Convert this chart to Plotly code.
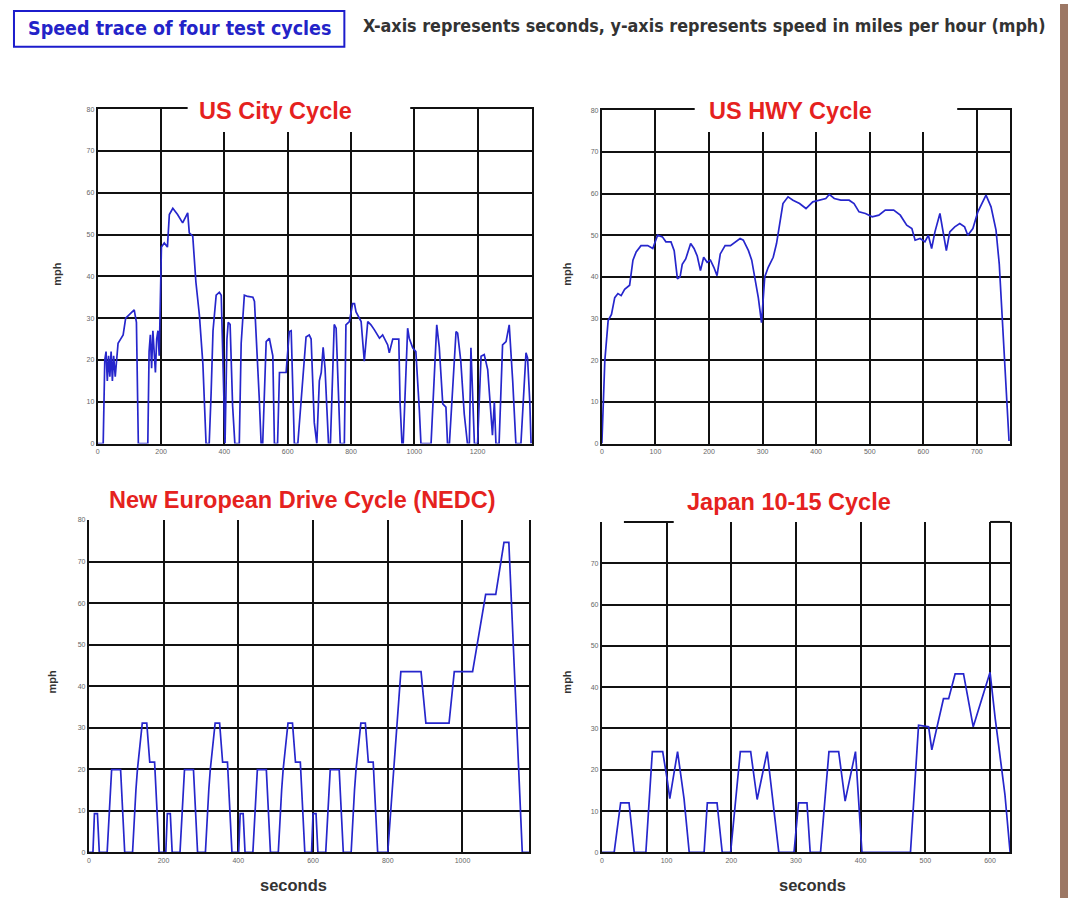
import plotly.graph_objects as go

# ---------------- data ----------------
CITY_T = [0, 17, 22, 26, 30, 34, 38, 42, 46, 50, 55, 60, 64, 72, 80, 88, 100, 115, 122, 126, 128,
          158, 162, 166, 170, 174, 178, 182, 186, 190, 194, 198, 201, 210, 220, 226, 237, 252, 268, 284, 289, 300, 310, 321, 332, 342,
          352, 358, 364, 374, 384, 390, 396, 400,
          402, 408, 412, 418, 426, 433,
          447, 453, 463, 474, 490, 495, 500, 510, 516,
          521, 532, 542, 553, 558,
          568, 574, 595, 605, 611, 616, 621,
          632, 658, 668, 674, 684, 690,
          692, 700, 706, 712, 718, 724, 729,
          735, 741, 747, 753, 760, 766,
          779, 784, 795, 805, 811, 816, 832, 842, 853, 863, 874, 890, 900, 916, 921, 932, 951, 955, 961,
          965, 979, 984, 995, 1005, 1016, 1021,
          1053, 1071, 1079, 1090, 1100, 1105,
          1111, 1132, 1137, 1147, 1158, 1168,
          1174, 1179, 1190,
          1200, 1211, 1221, 1232, 1242, 1247, 1253, 1258,
          1268, 1279, 1290, 1300, 1311, 1321,
          1337, 1353, 1358, 1365, 1369]
CITY_V = [0, 0, 20, 22, 15, 21, 16, 22, 15, 21, 16, 22, 24, 25, 26, 30, 31, 32, 29, 10, 0,
          0, 22, 26, 18, 27, 20, 17, 25, 27, 21, 38, 47, 48, 47, 54.8, 56.3, 54.8, 52.8, 55.2, 50.4, 49.6, 38.6, 30.7, 19, 0,
          0, 12, 27, 35.5, 36.2, 35.5, 15, 0,
          0, 25, 29, 28.5, 9, 0,
          0, 24, 35.5, 35.2, 35, 34, 27, 11, 0,
          0, 24.4, 25.2, 21, 0,
          0, 17, 17, 26.8, 27, 15, 0,
          0, 25.5, 26, 25, 5, 0,
          0, 15, 17, 23, 18, 8, 0,
          0, 15, 28.5, 27.6, 12, 0,
          0, 28.4, 29.2, 33.5, 33.5, 31.5, 29.2, 19.7, 29.2, 28.4, 27.2, 25.2, 26, 23.6, 21.7, 25, 25, 10, 0,
          0, 27.6, 25.2, 22.9, 22, 8, 0,
          0, 28.4, 23, 9.5, 8.7, 0,
          0, 26.8, 26.4, 19.7, 7, 0,
          0, 22.9, 0,
          0, 20.9, 21.3, 17.7, 7.5, 2, 10, 0,
          0, 23.6, 24.4, 28.4, 15, 0,
          0, 21.7, 20.5, 10, 0]

HWY_T = [0, 5.5, 11.7, 17.9, 24, 30, 36, 42.5, 51.8, 58,
         64, 73, 85.6, 95, 104, 113, 119.5, 129, 135, 141,
         146, 150, 156.5, 165.7, 172, 178, 184, 190, 196.5, 202.7,
         209, 215, 221, 230, 240, 249, 258, 264, 273.6, 279.7,
         286, 292, 298, 301, 304, 310.5, 319.8, 326, 332, 338,
         347.5, 356.7, 369, 381, 393.7, 406, 418, 424.5, 433.8, 446,
         461.5, 470.7, 480, 492, 504.6, 517, 529, 544.7, 557, 569,
         578.6, 584.7, 594, 603, 609.4, 615.5, 621.7, 631, 637, 643,
         649.4, 658.7, 668, 677, 683, 692.5, 701.8, 711, 717, 726.4,
         735.7, 741.8, 748, 754, 760]
HWY_V = [0, 19.9, 29.5, 31, 35, 36, 35.5, 37, 38, 44,
         46, 47.5, 47.5, 46.8, 50, 49.6, 48.4, 48.4, 46.3, 39.5,
         40, 43, 44.3, 48, 46.8, 45, 41.5, 44.7, 43.5, 44,
         42.3, 40.3, 45.5, 47.5, 47.5, 48.4, 49.2, 48.8, 46.3, 44,
         39, 35, 29, 35, 40, 42.3, 44.7, 48, 52.8, 57.6,
         59.2, 58.4, 57.6, 56.4, 58, 58.4, 58.8, 59.8, 58.8, 58.4,
         58.4, 57.6, 55.6, 55.2, 54.4, 54.8, 56, 56, 54.8, 52.4,
         51.6, 48.8, 49.2, 48.4, 50, 46.8, 50.8, 55.2, 51.2, 46.3,
         50.8, 52, 52.8, 52, 50, 51.6, 55.6, 58, 59.6, 56.8,
         51.2, 43, 29.5, 14.3, 0.6]

NEDC_T = [0, 11, 15, 23, 28, 49, 61, 85, 96, 117, 126, 130, 143, 155, 163, 176, 188,
          206, 210, 218, 223, 244, 256, 280, 291, 312, 321, 325, 338, 350, 358, 371, 383,
          401, 405, 413, 418, 439, 451, 475, 486, 507, 516, 520, 533, 545, 553, 566, 578,
          596, 600, 608, 613, 634, 646, 670, 681, 702, 711, 715, 728, 740, 748, 761, 773,
          800, 812, 818, 835, 889, 902, 964, 978, 1027, 1062, 1089, 1111, 1124, 1160, 1178]
NEDC_V = [0, 0, 9.3, 9.3, 0, 0, 19.9, 19.9, 0, 0, 15, 19.9, 31.1, 31.1, 21.7, 21.7, 0,
          0, 9.3, 9.3, 0, 0, 19.9, 19.9, 0, 0, 15, 19.9, 31.1, 31.1, 21.7, 21.7, 0,
          0, 9.3, 9.3, 0, 0, 19.9, 19.9, 0, 0, 15, 19.9, 31.1, 31.1, 21.7, 21.7, 0,
          0, 9.3, 9.3, 0, 0, 19.9, 19.9, 0, 0, 15, 19.9, 31.1, 31.1, 21.7, 21.7, 0,
          0, 15, 22, 43.5, 43.5, 31.1, 31.1, 43.5, 43.5, 62.1, 62.1, 74.6, 74.6, 0, 0]

JAPAN_T = [0, 19, 29, 42, 50, 68, 78, 94, 101, 105, 117, 127, 135,
           158, 163, 178, 186, 199, 214, 230, 240, 255.5, 273.5,
           297, 304, 317, 322, 338, 351, 366, 376, 392, 402,
           477, 489.5, 505, 510, 528, 536, 546, 559, 574, 600, 608, 623, 631]
JAPAN_V = [0, 0, 12, 12, 0, 0, 24.4, 24.4, 17.6, 13, 24.4, 13, 0,
           0, 12, 12, 0, 0, 24.4, 24.4, 12.8, 24.4, 0,
           0, 12, 12, 0, 0, 24.4, 24.4, 12.4, 24.4, 0,
           0, 30.8, 30.4, 24.8, 37.2, 37.2, 43.2, 43.2, 30.4, 43.6, 32.4, 14, 0]

TITLES = ["US City Cycle", "US HWY Cycle", "New European Drive Cycle (NEDC)", "Japan 10-15 Cycle"]
CITY_XTICKS = [0, 200, 400, 600, 800, 1000, 1200]
HWY_XTICKS = [0, 100, 200, 300, 400, 500, 600, 700]
NEDC_XTICKS = [0, 200, 400, 600, 800, 1000]
JAPAN_XTICKS = [0, 100, 200, 300, 400, 500, 600]
Y_TICKS_80 = [0, 10, 20, 30, 40, 50, 60, 70, 80]
Y_TICKS_70 = [0, 10, 20, 30, 40, 50, 60, 70]
HEADER_BOX = "Speed trace of four test cycles"
HEADER_NOTE = "X-axis represents seconds, y-axis represents speed in miles per hour (mph)"

# ---------------- layout helpers ----------------
W, H = 1068, 901
def px(x):
    return x / W
def py(y):
    return 1 - y / H

LINE = "#2626cc"
GRID = "#111111"
RED = "#e5221e"
ARIAL = "Arial, Liberation Sans, sans-serif"
TICKFONT = dict(family=ARIAL, size=7, color="#666666")
NARROW = "DejaVu Sans Condensed, Liberation Sans Narrow, Arial Narrow, sans-serif"

fig = go.Figure()
series = [(CITY_T, CITY_V, "x", "y"), (HWY_T, HWY_V, "x2", "y2"),
          (NEDC_T, NEDC_V, "x3", "y3"), (JAPAN_T, JAPAN_V, "x4", "y4")]
for t, v, xa, ya in series:
    fig.add_trace(go.Scatter(x=t, y=v, mode="lines", xaxis=xa, yaxis=ya,
                             line=dict(color=LINE, width=1.7), showlegend=False,
                             hoverinfo="skip"))

def xax(domain, rng, ticks, mirror, anchor):
    return dict(domain=domain, range=rng, tickvals=ticks, ticktext=[str(t) for t in ticks],
                showgrid=True, gridcolor=GRID, gridwidth=2, zeroline=False,
                showline=True, linecolor=GRID, linewidth=2, mirror=mirror,
                ticks="", tickfont=TICKFONT, anchor=anchor, fixedrange=True)

def yax(domain, rng, ticks, anchor):
    return dict(domain=domain, range=rng, tickvals=ticks, ticktext=[str(t) for t in ticks],
                showgrid=True, gridcolor=GRID, gridwidth=2, zeroline=False,
                showline=True, linecolor=GRID, linewidth=2, mirror=True,
                ticks="", tickfont=TICKFONT, anchor=anchor, fixedrange=True)

fig.update_layout(
    width=W, height=H, margin=dict(l=0, r=0, t=0, b=0),
    paper_bgcolor="white", plot_bgcolor="white", showlegend=False,
    xaxis=xax([px(96), px(531)], [0, 1372], CITY_XTICKS, True, "y"),
    yaxis=yax([py(443), py(106)], [0, 80], Y_TICKS_80, "x"),
    xaxis2=xax([px(601), px(1010)], [0, 762], HWY_XTICKS, True, "y2"),
    yaxis2=yax([py(443), py(107)], [0, 80], Y_TICKS_80, "x2"),
    xaxis3=xax([px(87), px(528)], [0, 1178], NEDC_XTICKS, False, "y3"),
    yaxis3=yax([py(855), py(520)], [0, 80], Y_TICKS_80, "x3"),
    xaxis4=xax([px(601), px(1010)], [0, 631], JAPAN_XTICKS, False, "y4"),
    yaxis4=yax([py(855), py(522)], [0, 80], Y_TICKS_70, "x4"),
)

shapes = [
    # white patches where the titles interrupt the frame / grid
    dict(type="rect", xref="paper", yref="paper", x0=px(186), x1=px(409), y0=py(129), y1=py(96),
         fillcolor="white", line=dict(width=0), layer="above"),
    dict(type="rect", xref="paper", yref="paper", x0=px(694), x1=px(957), y0=py(129), y1=py(96),
         fillcolor="white", line=dict(width=0), layer="above"),
    # partial top frame of the Japan panel
    dict(type="line", xref="x4 domain", yref="y4 domain", x0=0.054, x1=0.176, y0=1, y1=1,
         line=dict(color=GRID, width=2)),
    dict(type="line", xref="x4 domain", yref="y4 domain", x0=0.951, x1=1, y0=1, y1=1,
         line=dict(color=GRID, width=2)),
    # header box
    dict(type="rect", xref="paper", yref="paper", x0=px(12), x1=px(343), y0=py(43), y1=py(7),
         fillcolor="white", line=dict(color="#1c1ccc", width=2)),
    # brown stripe on the right
    dict(type="rect", xref="paper", yref="paper", x0=px(1060), x1=1, y0=0, y1=1,
         fillcolor="#9c7764", line=dict(width=0)),
]
fig.update_layout(shapes=shapes)

ann = []
ann.append(dict(text="<b>" + HEADER_BOX + "</b>", x=px(177.5), y=py(25), xref="paper", yref="paper",
                showarrow=False, xanchor="center", yanchor="middle",
                font=dict(family=NARROW, size=19.5, color="#2323c8")))
ann.append(dict(text="<b>" + HEADER_NOTE + "</b>", x=px(360), y=py(22), xref="paper", yref="paper",
                showarrow=False, xanchor="left", yanchor="middle",
                font=dict(family=NARROW, size=17.8, color="#333333")))
title_pos = [(274, 108), (790, 108), (301, 500), (788, 502)]
for title, (tx, ty) in zip(TITLES, title_pos):
    ann.append(dict(text="<b>" + title + "</b>", x=px(tx), y=py(ty), xref="paper", yref="paper",
                    showarrow=False, xanchor="center", yanchor="middle",
                    font=dict(family=ARIAL, size=23.5, color=RED)))
for mx, my in [(55, 272), (566, 272), (50, 683), (566, 683)]:
    ann.append(dict(text="<b>mph</b>", x=px(mx), y=py(my), xref="paper", yref="paper",
                    showarrow=False, textangle=-90, xanchor="center", yanchor="middle",
                    font=dict(family=ARIAL, size=11, color="#333333")))
for sx in [292, 812]:
    ann.append(dict(text="<b>seconds</b>", x=px(sx), y=py(888), xref="paper", yref="paper",
                    showarrow=False, xanchor="center", yanchor="middle",
                    font=dict(family=ARIAL, size=16.5, color="#333333")))
fig.update_layout(annotations=ann)

fig.write_html("out.html", config={"displayModeBar": False},
               post_script="document.body.style.margin='0';document.body.style.overflow='hidden';")
